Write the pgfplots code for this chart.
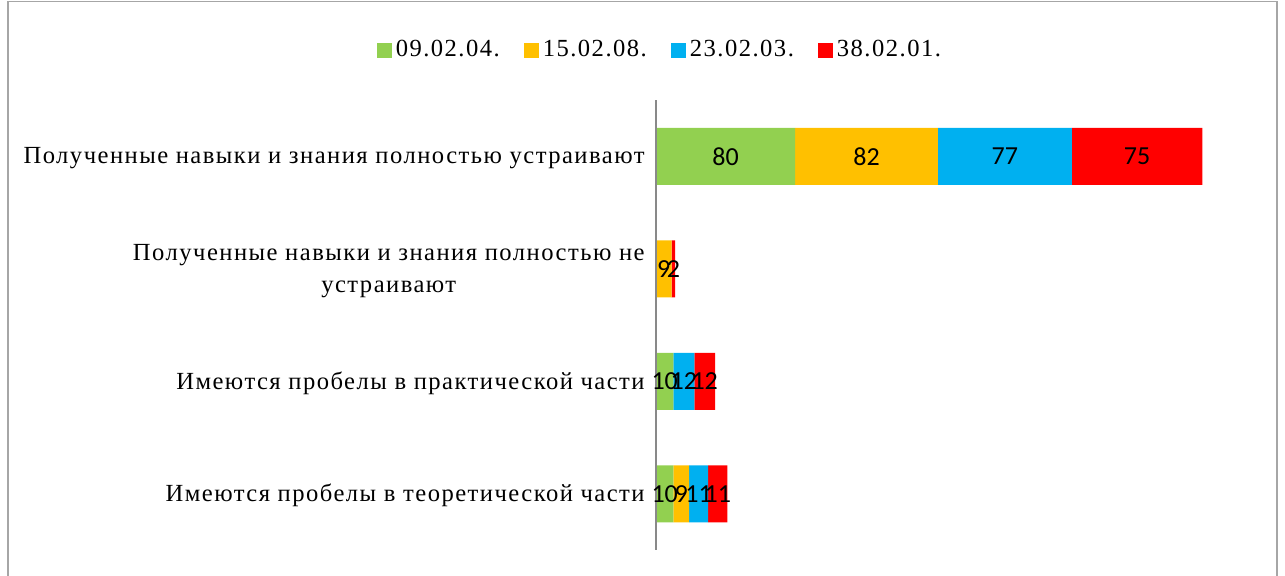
\documentclass[border=0pt]{standalone}
\usepackage{pgfplots}
\pgfplotsset{compat=1.18}
\usepackage{pgfplotstable}
\usepackage{fontspec}
\setmainfont[LetterSpace=6]{Liberation Serif}
\newfontfamily\lbl{Carlito}

\definecolor{cGreen}{HTML}{92D050}
\definecolor{cYellow}{HTML}{FFC000}
\definecolor{cBlue}{HTML}{00B0F0}
\definecolor{cRed}{HTML}{FF0000}
\definecolor{axGray}{HTML}{898989}

% rows: 0 = top category
\pgfplotstableread{
y a b c d
0 80 82 77 75
1 0 9 0 2
2 10 0 12 12
3 10 9 11 11
}\survey

\begin{document}
\begin{tikzpicture}
\useasboundingbox (0,0) rectangle (642.5pt,-287.5pt);
\draw[gray!70, line width=0.8pt] (4pt,-0.8pt) rectangle (638.5pt,-295pt);
\begin{axis}[
    at={(328pt,-275pt)}, anchor=south west,
    scale only axis, width=304.5pt, height=225pt,
    xbar stacked, bar width=28.5pt,
    xmin=0, xmax=350, ymin=-0.5, ymax=3.5, y dir=reverse,
    axis x line=none, axis y line*=left,
    y axis line style={axGray, line width=1pt, -},
    ytick={0,1,2,3}, major tick length=0pt,
    yticklabels={{Полученные навыки и знания полностью устраивают},
                 {Полученные навыки и знания полностью не\\устраивают},
                 {Имеются пробелы в практической части},
                 {Имеются пробелы в теоретической части}},
    yticklabel style={align=center, font=\fontsize{12.3}{16}\selectfont, inner sep=0pt, xshift=-5.5pt, yshift=-1pt},
    axis on top,
    point meta=explicit,
    /pgf/number format/assume math mode=true,
    nodes near coords={\pgfmathprintnumber{\pgfplotspointmeta}},
    every node near coord/.append style={font=\lbl\fontsize{13}{13}\selectfont, text=black,
        anchor=center},
    legend columns=4,
    legend style={at={(0.008,1.111)}, anchor=center, draw=none, fill=none,
        font=\fontsize{12.3}{12}\selectfont, inner sep=0pt,
        /tikz/every even column/.append style={column sep=10pt}},
    sq/.style={legend image code/.code={\fill[##1] (0pt,-3.75pt) rectangle (7.5pt,3.75pt);}},
]
\addplot[fill=cGreen, draw=none, sq] table[x=a, y=y, meta=a]{\survey};
\addplot[fill=cYellow, draw=none, sq] table[x=b, y=y, meta=b]{\survey};
\addplot[fill=cBlue, draw=none, sq] table[x=c, y=y, meta=c]{\survey};
\addplot[fill=cRed, draw=none, sq] table[x=d, y=y, meta=d]{\survey};
\legend{09.02.04., 15.02.08., 23.02.03., 38.02.01.}
\end{axis}
\end{tikzpicture}
\end{document}
